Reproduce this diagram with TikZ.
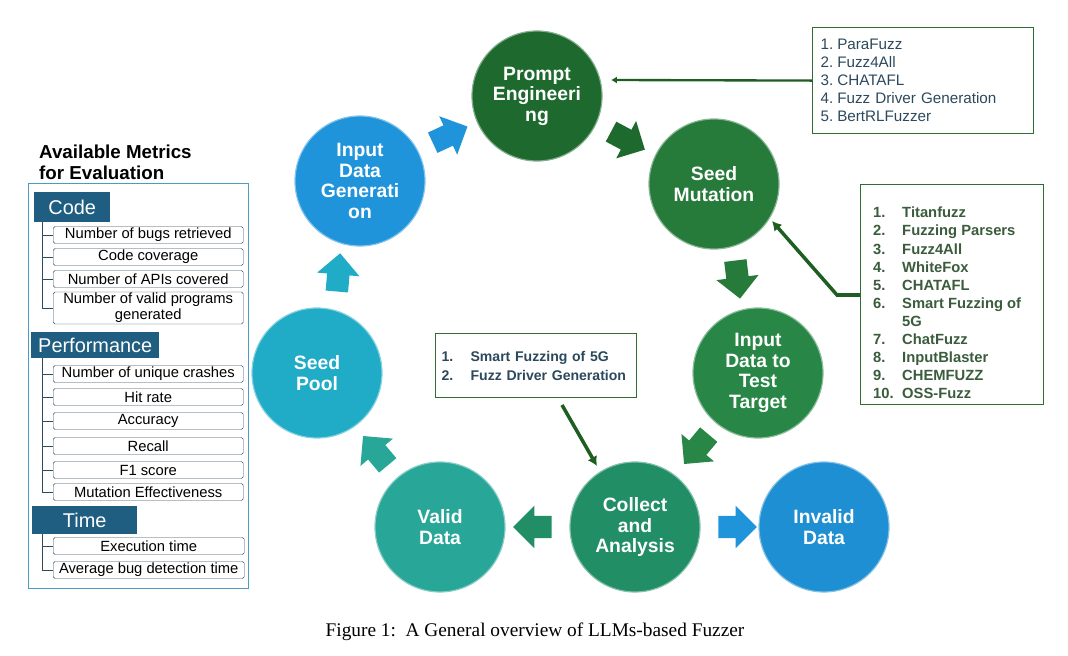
\documentclass[tikz,border=0pt]{standalone}
\usepackage{fontspec}
\setmainfont{Liberation Sans}
\newfontfamily\capfont{Liberation Serif}
\usetikzlibrary{shapes.arrows,arrows.meta}

\definecolor{peGreen}{RGB}{30,106,46}
\definecolor{smGreen}{RGB}{38,122,58}
\definecolor{ittGreen}{RGB}{40,134,70}
\definecolor{caGreen}{RGB}{34,142,102}
\definecolor{vdTeal}{RGB}{40,166,152}
\definecolor{invBlue}{RGB}{30,143,210}
\definecolor{spCyan}{RGB}{32,172,198}
\definecolor{idgBlue}{RGB}{31,148,219}
\definecolor{linkGreen}{RGB}{30,94,34}
\definecolor{boxGreen}{RGB}{46,110,50}
\definecolor{headBlue}{RGB}{31,94,128}
\definecolor{panelBlue}{RGB}{74,156,196}
\definecolor{itemLine}{RGB}{45,75,90}
\definecolor{listText}{RGB}{44,72,92}
\definecolor{toolText}{RGB}{58,92,60}

\tikzset{
	stage/.style={circle, minimum size=3.9cm, inner sep=0pt, fill=#1, draw=#1!55!white, line width=1pt,
		text=white, align=center, font=\bfseries\fontsize{16.5}{17.5}\selectfont},
	flow/.style={single arrow, fill=#1, draw=none, inner xsep=0pt, inner ysep=0.33cm, minimum height=1.15cm,
		single arrow head extend=0.3cm},
	metric/.style={draw=itemLine, rounded corners=1.5pt, anchor=west, minimum width=5.7cm,
		minimum height=0.51cm, inner sep=0pt, font=\fontsize{12.6}{13.7}\selectfont},
	group/.style={fill=headBlue, text=white, anchor=north west, inner sep=0pt,
		font=\fontsize{17}{18}\selectfont},
	tree/.style={draw=itemLine, line width=.8pt},
	refs/.style={draw=boxGreen, line width=1pt, anchor=north west, align=left},
	link/.style={draw=linkGreen, line width=3pt, -{Latex[length=8pt,width=9pt]}}
}

\begin{document}
\begin{tikzpicture}[x=0.03cm, y=-0.03cm]

	\useasboundingbox (0,0) rectangle (1068,656);

	\node[stage=peGreen] (pe) at (537,96) {Prompt\\Engineeri\\ng};
	\node[stage=smGreen] (sm) at (714,184) {Seed\\Mutation};
	\node[stage=ittGreen] (itt) at (758,373) {Input\\Data to\\Test\\Target};
	\node[stage=caGreen] (ca) at (635,527) {Collect\\and\\Analysis};
	\node[stage=invBlue] (inv) at (824,527) {Invalid\\Data};
	\node[stage=vdTeal] (vd) at (440,527) {Valid\\Data};
	\node[stage=spCyan] (sp) at (317,373) {Seed\\Pool};
	\node[stage=idgBlue] (idg) at (360,181) {Input\\Data\\Generati\\on};

	\node[flow=idgBlue, rotate=25] (a1) at (445,137) {};
	\node[flow=peGreen, rotate=-28] (a2) at (623,138) {};
	\node[flow=smGreen, rotate=-83] (a3) at (737,274) {};
	\node[flow=ittGreen, rotate=-130] (a4) at (700,445) {};
	\node[flow=caGreen, rotate=180] (a5) at (538,527) {};
	\node[flow=idgBlue, rotate=0] (a6) at (732,527) {};
	\node[flow=vdTeal, rotate=130] (a7) at (379,455) {};
	\node[flow=spCyan, rotate=85] (a8) at (338,278) {};

	\node[refs, text=listText, text width=6.15cm, minimum width=6.63cm, minimum height=3.18cm,
		inner xsep=0.24cm, inner ysep=0pt, font=\fontsize{13}{15.4}\selectfont] (llm) at (812,27)
		{\makebox[0.5cm][l]{1.}ParaFuzz\\
		\makebox[0.5cm][l]{2.}Fuzz4All\\
		\makebox[0.5cm][l]{3.}CHATAFL\\
		\makebox[0.5cm][l]{4.}Fuzz Driver Generation\\
		\makebox[0.5cm][l]{5.}BertRLFuzzer};
	\coordinate (peIn) at (611,80);
	\draw[link, line width=2pt, -{Latex[length=5pt,width=6pt]}] (llm.west) -- (peIn);

	\node[refs, minimum width=5.49cm, minimum height=6.6cm, inner sep=0pt] (tools) at (860,184) {};
	\node[anchor=north west, align=left, inner sep=0pt, text=toolText,
		font=\bfseries\fontsize{12.6}{15.4}\selectfont] (toolList) at (873,207)
		{\makebox[0.87cm][l]{1.}Titanfuzz\\
		\makebox[0.87cm][l]{2.}Fuzzing Parsers\\
		\makebox[0.87cm][l]{3.}Fuzz4All\\
		\makebox[0.87cm][l]{4.}WhiteFox\\
		\makebox[0.87cm][l]{5.}CHATAFL\\
		\makebox[0.87cm][l]{6.}Smart Fuzzing of\\
		\hspace*{0.87cm}5G\\
		\makebox[0.87cm][l]{7.}ChatFuzz\\
		\makebox[0.87cm][l]{8.}InputBlaster\\
		\makebox[0.87cm][l]{9.}CHEMFUZZ\\
		\makebox[0.87cm][l]{10.}OSS-Fuzz};
	\coordinate (bend) at (837,295);
	\coordinate (smIn) at (772,221);
	\draw[link] (tools.west |- bend) -- (bend) -- (smIn);

	\node[refs, text=listText, text width=5.67cm, minimum width=6.03cm, minimum height=1.92cm,
		inner xsep=0.18cm, inner ysep=0pt, font=\bfseries\fontsize{12}{16.2}\selectfont] (net) at (435,333)
		{\makebox[0.87cm][l]{1.}Smart Fuzzing of 5G\\
		\makebox[0.87cm][l]{2.}\mbox{Fuzz Driver Generation}};
	\coordinate (dropTop) at (562,405);
	\coordinate (caIn) at (597,466);
	\draw[link] (dropTop) -- (caIn);

	\node[anchor=west, align=left, inner sep=0pt, font=\bfseries\fontsize{16}{18}\selectfont] (title) at (39,162)
		{Available Metrics\\for Evaluation};
	\node[draw=panelBlue, line width=1.2pt, anchor=north west, minimum width=6.6cm, minimum height=12.15cm,
		inner sep=0pt] (panel) at (28,183) {};

	\node[group, minimum width=2.28cm, minimum height=0.9cm] (code) at (34,192) {Code};
	\node[metric] (c1) at (53,235) {Number of bugs retrieved};
	\node[metric] (c2) at (53,257) {Code coverage};
	\node[metric] (c3) at (53,279) {Number of APIs covered};
	\node[metric, minimum height=0.96cm, align=center] (c4) at (53,308) {Number of valid programs\\generated};
	\coordinate (codeTrunk) at (42,222);
	\draw[tree] (codeTrunk) |- (c1.west) (codeTrunk) |- (c2.west) (codeTrunk) |- (c3.west) (codeTrunk) |- (c4.west);

	\node[group, minimum width=3.84cm, minimum height=0.78cm] (perf) at (31,332) {Performance};
	\node[metric] (p1) at (53,374) {Number of unique crashes};
	\node[metric] (p2) at (53,397) {Hit rate};
	\node[metric] (p3) at (53,421) {Accuracy};
	\node[metric] (p4) at (53,446) {Recall};
	\node[metric] (p5) at (53,470) {F1 score};
	\node[metric] (p6) at (53,492) {Mutation Effectiveness};
	\coordinate (perfTrunk) at (42,358);
	\draw[tree] (perfTrunk) |- (p1.west) (perfTrunk) |- (p2.west) (perfTrunk) |- (p3.west)
		(perfTrunk) |- (p4.west) (perfTrunk) |- (p5.west) (perfTrunk) |- (p6.west);

	\node[group, minimum width=3.15cm, minimum height=0.84cm] (time) at (32,506) {Time};
	\node[metric, minimum width=5.73cm] (t1) at (53,546) {Execution time};
	\node[metric, minimum width=5.73cm] (t2) at (53,570) {Average bug detection time};
	\coordinate (timeTrunk) at (42,534);
	\draw[tree] (timeTrunk) |- (t1.west) (timeTrunk) |- (t2.west);

	\node[font=\capfont\fontsize{16.5}{18}\selectfont, inner sep=0pt] (caption) at (535,632)
		{Figure 1:\ \ A General overview of LLMs-based Fuzzer};

\end{tikzpicture}
\end{document}
